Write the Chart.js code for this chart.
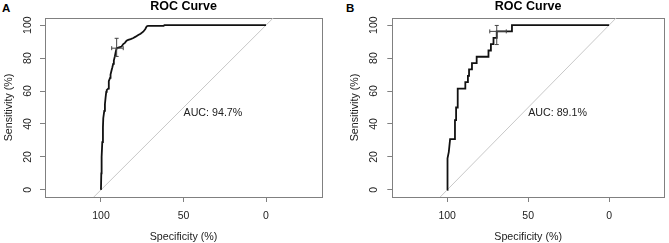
<!DOCTYPE html>
<html><head><meta charset="utf-8">
<script src="https://cdn.jsdelivr.net/npm/chart.js@4/dist/chart.umd.min.js"></script>
<style>
html,body{margin:0;padding:0;background:#fff;}
body{width:669px;height:243px;position:relative;overflow:hidden;font-family:"Liberation Sans",Arial,sans-serif;}
.panel{position:absolute;top:0;height:243px;}
.tag{position:absolute;top:1px;font-weight:bold;font-size:11.5px;line-height:14px;color:#000;}
canvas{display:block;}
</style></head><body>
<div class="tag" style="left:2px">A</div>
<div class="tag" style="left:346px">B</div>
<div class="panel" style="left:0;width:334px"><canvas id="cA" width="334" height="243"></canvas></div>
<div class="panel" style="left:334px;width:335px"><canvas id="cB" width="335" height="243"></canvas></div>
<script>
// ---- data ----
const xTicks = [100, 50, 0];
const yTicks = [0, 20, 40, 60, 80, 100];
const diagSpec = [140, -40];            // reference line: sensitivity = 100 - specificity

const specA = [100,99.8,99.6,99.2,98.8,98.6,98,97.6,97.2,96.8,96.5,95.6,95.3,95.2,94.5,94.2,93.6,93.2,92.6,92.2,91.6,91,90.5,89,87.5,86.5,85.5,84.5,83.5,82,80.4,79,77.4,76,74.4,73.2,72.3,71.5,62,61.5,0];
const sensA = [0,10,20,29,38,43.5,48,52,56,59.5,60.5,61.5,64,66,68,70,72.5,74,76.5,78.5,81,84,86,86.5,87,88.5,89.2,90.5,91,91.5,92.2,93,94,94.8,96,97.5,99.2,99.6,99.6,100,100];
const ciSpecA = [93.5, 90.5, 86.5];
const ciSensA = [81, 86, 92];
const aucA = "94.7%";

const specB = [100,100,99.6,99,98.2,95.2,95.2,94.5,94.5,93.5,93.5,88.8,88.8,87.2,87.2,86.5,86.5,84.7,84.7,81.8,81.8,74.5,74.5,73,73,71.4,71.4,69.4,69.4,60,60,0];
const sensB = [0,11.5,19.2,23.1,30.8,30.8,42.3,42.3,50,50,61.5,61.5,65.4,65.4,69.2,69.2,73.1,73.1,76.9,76.9,80.8,80.8,84.6,84.6,88.5,88.5,92.3,92.3,96.2,96.2,100,100];
const ciSpecB = [73.7, 69.4, 63.5];
const ciSensB = [88.2, 96.2, 99.8];
const aucB = "89.1%";

// ---- chart ----
const FONT = '"Liberation Sans", Arial, Helvetica, sans-serif';
const TXT = '#222';
const FRAME = '#808080';

const aucLabel = {
  id: 'aucLabel',
  afterDatasetsDraw(chart, args, opts) {
    const {ctx, scales: {x, y}} = chart;
    ctx.save();
    ctx.font = '10.7px ' + FONT;
    ctx.fillStyle = TXT;
    ctx.textAlign = 'left';
    ctx.textBaseline = 'top';
    ctx.fillText(opts.text, x.getPixelForValue(opts.x), y.getPixelForValue(opts.y));
    ctx.restore();
  }
};

// y tick labels rotated like R's default (las = 0)
const rotY = {
  id: 'rotY',
  afterDraw(chart, args, opts) {
    const s = chart.scales.y;
    const ctx = chart.ctx;
    const cx = chart.chartArea.left - opts.offset;
    ctx.save();
    ctx.font = '10.5px ' + FONT;
    ctx.fillStyle = TXT;
    ctx.textAlign = 'center';
    ctx.textBaseline = 'middle';
    s.ticks.forEach(t => {
      ctx.save();
      ctx.translate(cx, s.getPixelForValue(t.value));
      ctx.rotate(-Math.PI / 2);
      ctx.fillText(String(t.value), 0, 0);
      ctx.restore();
    });
    ctx.restore();
  }
};

function makeChart(id, spec, sens, ciSpec, ciSens, auc, lay) {
  const tickFont = {family: FONT, size: 10.5};
  const titleFont = {family: FONT, size: 10.7};
  return new Chart(document.getElementById(id), {
    type: 'scatter',
    data: {
      datasets: [
        {data: spec.map((x, i) => ({x, y: sens[i]})), showLine: true, borderColor: '#111', borderWidth: 1.8, pointRadius: 0, tension: 0, order: 1},
        {data: [{x: ciSpec[0], y: ciSens[1]}, {x: ciSpec[2], y: ciSens[1]}], showLine: true, borderColor: '#444', borderWidth: 1,
         pointStyle: 'line', pointRotation: 90, pointRadius: 2, pointBorderColor: '#444', pointBorderWidth: 1, order: 0},
        {data: [{x: ciSpec[1], y: ciSens[0]}, {x: ciSpec[1], y: ciSens[2]}], showLine: true, borderColor: '#444', borderWidth: 1,
         pointStyle: 'line', pointRotation: 0, pointRadius: 2, pointBorderColor: '#444', pointBorderWidth: 1, order: 0},
        {data: diagSpec.map(x => ({x, y: 100 - x})), showLine: true, borderColor: '#c8c8c8', borderWidth: 1, pointRadius: 0, order: 5}
      ]
    },
    options: {
      responsive: false,
      animation: false,
      devicePixelRatio: 1,
      layout: {padding: {left: 0, right: lay.right, top: 0, bottom: 0}},
      plugins: {
        legend: {display: false},
        tooltip: {enabled: false},
        title: {display: true, text: 'ROC Curve', fullSize: false, color: '#000',
                font: {family: FONT, size: 12.5, weight: 'bold', lineHeight: 1}, padding: {top: 0, bottom: 5.5}},
        aucLabel: {text: 'AUC: ' + auc, x: 50, y: 50},
        rotY: {offset: lay.yLabelOffset}
      },
      scales: {
        x: {
          type: 'linear', position: 'bottom', min: -33.9, max: 133.9, reverse: true,
          afterBuildTicks: s => { s.ticks = xTicks.map(v => ({value: v})); },
          afterFit: s => { s.height = 46; },
          ticks: {font: tickFont, color: TXT, padding: 7.6, minRotation: 0, maxRotation: 0, autoSkip: false},
          grid: {display: true, drawOnChartArea: false, drawTicks: true, tickLength: 5, color: FRAME, tickColor: FRAME, lineWidth: 1},
          border: {display: true, color: FRAME, width: 1},
          title: {display: true, text: 'Specificity (%)', font: titleFont, color: TXT, padding: {top: 0, bottom: 0}}
        },
        y: {
          type: 'linear', position: 'left', min: -4.32, max: 104.32,
          afterBuildTicks: s => { s.ticks = yTicks.map(v => ({value: v})); },
          afterFit: s => { s.width = lay.yw; },
          ticks: {display: false, font: tickFont, color: TXT},
          grid: {display: true, drawOnChartArea: false, drawTicks: true, tickLength: 5, color: FRAME, tickColor: FRAME, lineWidth: 1},
          border: {display: true, color: FRAME, width: 1},
          title: {display: true, text: 'Sensitivity (%)', font: titleFont, color: TXT, padding: {top: lay.yTitlePad, bottom: 0}}
        },
        x2: {
          type: 'linear', position: 'top', min: -33.9, max: 133.9, reverse: true,
          afterFit: s => { s.height = 0; },
          ticks: {display: false}, grid: {display: false},
          border: {display: true, color: FRAME, width: 1}
        },
        y2: {
          type: 'linear', position: 'right', min: -4.32, max: 104.32,
          afterFit: s => { s.width = 0; },
          ticks: {display: false}, grid: {display: false},
          border: {display: true, color: FRAME, width: 1}
        }
      }
    },
    plugins: [aucLabel, rotY]
  });
}

makeChart('cA', specA, sensA, ciSpecA, ciSensA, aucA, {yw: 45, yLabelOffset: 17.3, yTitlePad: 2.8, right: 12});
makeChart('cB', specB, sensB, ciSpecB, ciSensB, aucB, {yw: 58.3, yLabelOffset: 18.3, yTitlePad: 14.4, right: 1.7});
</script>
</body></html>
